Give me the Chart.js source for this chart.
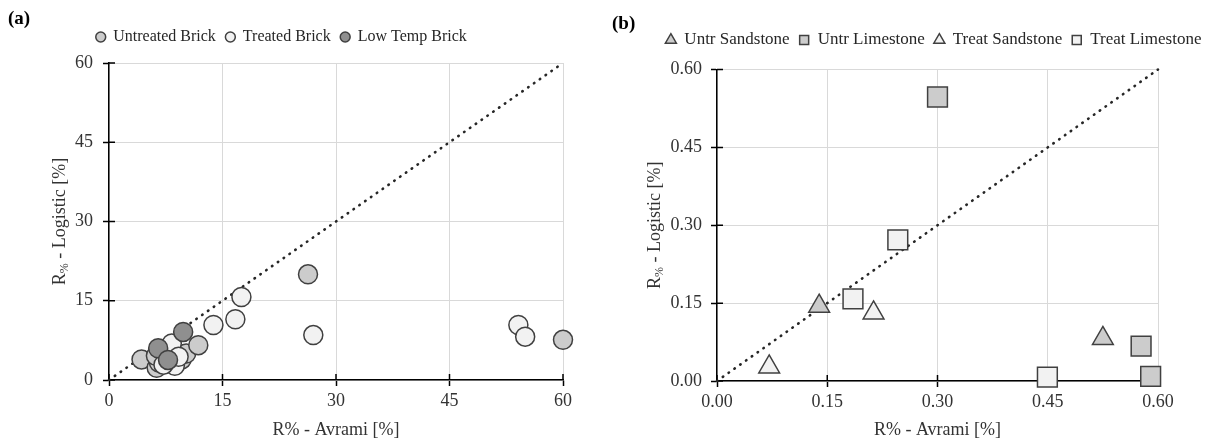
<!DOCTYPE html>
<html>
<head>
<meta charset="utf-8">
<script src="https://cdn.jsdelivr.net/npm/chart.js@4.4.1/dist/chart.umd.min.js"></script>
<style>
  html, body { margin: 0; padding: 0; background: #fff; }
  body { width: 1213px; height: 443px; position: relative; overflow: hidden; font-family: "Liberation Serif", serif; }
  .panel { position: absolute; top: 0; height: 443px; }
  #wrapA { left: 0; width: 600px; }
  #wrapB { left: 600px; width: 613px; }
  .tag { position: absolute; font-weight: bold; font-size: 19px; color: #000; line-height: 1; }
</style>
</head>
<body>
<div class="panel" id="wrapA"><canvas id="chartA" width="600" height="443"></canvas></div>
<div class="panel" id="wrapB"><canvas id="chartB" width="613" height="443"></canvas></div>
<div class="tag" style="left:8px;top:8px;">(a)</div>
<div class="tag" style="left:612px;top:13px;">(b)</div>
<script>
// ---------- data: panel (a) bricks ----------
const untreatedBrickX = [4.3, 6.3, 6.6, 6.2, 9.6, 10.2, 11.8, 26.3, 60.0];
const untreatedBrickY = [3.9, 2.3, 3.3, 4.6, 3.9, 5.0, 6.6, 20.0, 7.6];
const treatedBrickX   = [8.3, 8.7, 7.2, 9.2, 13.8, 16.7, 17.5, 27.0, 54.1, 55.0];
const treatedBrickY   = [6.9, 2.7, 2.9, 4.4, 10.4, 11.5, 15.7, 8.5, 10.4, 8.2];
const lowTempBrickX   = [6.5, 7.8, 9.8];
const lowTempBrickY   = [6.0, 3.8, 9.1];
const ticksA = [0, 15, 30, 45, 60];

// ---------- data: panel (b) stones ----------
const untrSandX  = [0.139, 0.525];
const untrSandY  = [0.144, 0.082];
const untrLimeX  = [0.300, 0.577, 0.590];
const untrLimeY  = [0.547, 0.067, 0.009];
const treatSandX = [0.071, 0.213];
const treatSandY = [0.027, 0.131];
const treatLimeX = [0.246, 0.185, 0.4495];
const treatLimeY = [0.272, 0.158, 0.0075];
const ticksB = [0, 0.15, 0.30, 0.45, 0.60];

const FONT = '"Liberation Serif", "Times New Roman", serif';
Chart.defaults.font.family = FONT;
Chart.defaults.color = '#333';

const pts = (xs, ys) => xs.map((x, i) => ({ x: x, y: ys[i] }));

// kleine tick-strepen aan binnenkant van de as
const crossTicks = {
  id: 'crossTicks',
  beforeDatasetsDraw(chart) {
    const { ctx, chartArea } = chart;
    const xs = chart.scales.x, ys = chart.scales.y;
    ctx.save();
    ctx.strokeStyle = '#000';
    ctx.lineWidth = 1.5;
    ctx.beginPath();
    xs.ticks.forEach(t => {
      const px = xs.getPixelForValue(t.value);
      ctx.moveTo(px, chartArea.bottom);
      ctx.lineTo(px, chartArea.bottom - 6);
    });
    ys.ticks.forEach(t => {
      const py = ys.getPixelForValue(t.value);
      ctx.moveTo(chartArea.left, py);
      ctx.lineTo(chartArea.left + 6, py);
    });
    ctx.stroke();
    ctx.restore();
  }
};

// y-titel met subscript "%"
const subTitleY = {
  id: 'subTitleY',
  afterDraw(chart, args, opts) {
    const { ctx, chartArea } = chart;
    const cy = (chartArea.top + chartArea.bottom) / 2;
    const big = '18px ' + FONT, small = '12px ' + FONT;
    ctx.save();
    ctx.translate(opts.x, cy);
    ctx.rotate(-Math.PI / 2);
    ctx.fillStyle = '#333';
    ctx.textBaseline = 'middle';
    ctx.textAlign = 'left';
    ctx.font = big;
    const w1 = ctx.measureText(opts.main).width;
    const w3 = ctx.measureText(opts.rest).width;
    ctx.font = small;
    const w2 = ctx.measureText(opts.sub).width;
    const x0 = -(w1 + w2 + w3) / 2;
    ctx.font = big;  ctx.fillText(opts.main, x0, 0);
    ctx.font = small; ctx.fillText(opts.sub, x0 + w1, 5);
    ctx.font = big;  ctx.fillText(opts.rest, x0 + w1 + w2, 0);
    ctx.restore();
  }
};

function axis(ticks, fmt, max, opts) {
  return {
    type: 'linear',
    min: 0,
    max: max,
    afterBuildTicks: s => { s.ticks = ticks.map(v => ({ value: v })); },
    afterFit: opts.fit,
    grid: { color: '#d9d9d9', lineWidth: 1, tickColor: '#000', tickLength: 6, tickWidth: 1.5 },
    border: { color: '#000', width: 1.5 },
    ticks: { callback: v => fmt(v), font: { size: 18, lineHeight: 1 }, color: '#333', padding: opts.pad },
    title: opts.title
      ? { display: true, text: opts.title, font: { size: 18, lineHeight: 1 }, color: '#333', padding: { top: 0, bottom: opts.titlePad } }
      : { display: false }
  };
}

// lege as als afstandhouder (boven of rechts)
function spacer(pos, size) {
  return {
    position: pos, display: true, min: 0, max: 1,
    grid: { display: false, drawTicks: false }, border: { display: false },
    ticks: { display: false },
    afterFit: s => { if (pos === 'top') s.height = size; else s.width = size; }
  };
}

function dotted(xs, ys) {
  return {
    type: 'line', label: '', data: pts(xs, ys),
    borderColor: '#262626', borderWidth: 2.6, borderDash: [0.5, 6.6], borderCapStyle: 'round',
    pointRadius: 0, fill: false, order: 10, clip: false
  };
}

function marker(label, xs, ys, style, fill, r, order) {
  return {
    type: 'scatter', label: label, data: pts(xs, ys),
    pointStyle: style, backgroundColor: fill, borderColor: '#404040', borderWidth: 1.5,
    pointRadius: r, pointHoverRadius: r, order: order, clip: false
  };
}

// ===== panel (a) =====
new Chart(document.getElementById('chartA'), {
  type: 'scatter',
  data: {
    datasets: [
      marker('Untreated Brick', untreatedBrickX, untreatedBrickY, 'circle', '#cccccc', 9.5, 3),
      marker('Treated Brick', treatedBrickX, treatedBrickY, 'circle', '#f2f2f2', 9.5, 2),
      marker('Low Temp Brick', lowTempBrickX, lowTempBrickY, 'circle', '#8f8f8f', 9.5, 1),
      dotted([0, 60], [0, 60])
    ]
  },
  options: {
    responsive: false,
    animation: false,
    layout: { padding: { top: 19, right: 37, left: 0, bottom: 0 } },
    scales: {
      x: axis(ticksA, v => String(v), 60, { fit: s => { s.height = 63; }, pad: 6, title: 'R% - Avrami [%]', titlePad: 4 }),
      y: axis(ticksA, v => String(v), 60, { fit: s => { s.width = 109; }, pad: 10 }),
      xTop: spacer('top', 8)
    },
    plugins: {
      tooltip: { enabled: false },
      legend: {
        position: 'top', align: 'center',
        labels: {
          usePointStyle: true, boxWidth: 9, boxHeight: 7, padding: 10,
          font: { size: 16 }, color: '#262626',
          filter: item => item.datasetIndex < 3,
          sort: (a, b) => a.datasetIndex - b.datasetIndex
        }
      },
      subTitleY: { x: 60, main: 'R', sub: '%', rest: ' - Logistic [%]' }
    }
  },
  plugins: [crossTicks, subTitleY]
});

// ===== panel (b) =====
new Chart(document.getElementById('chartB'), {
  type: 'scatter',
  data: {
    datasets: [
      marker('Untr Sandstone', untrSandX, untrSandY, 'triangle', '#cccccc', 12, 4),
      marker('Untr Limestone', untrLimeX, untrLimeY, 'rect', '#cccccc', 14, 3),
      marker('Treat Sandstone', treatSandX, treatSandY, 'triangle', '#f2f2f2', 12, 2),
      marker('Treat Limestone', treatLimeX, treatLimeY, 'rect', '#f2f2f2', 14, 1),
      dotted([0, 0.6], [0, 0.6])
    ]
  },
  options: {
    responsive: false,
    animation: false,
    layout: { padding: { top: 22, right: 2, left: 0, bottom: 0 } },
    scales: {
      x: axis(ticksB, v => v.toFixed(2), 0.6, { fit: s => { s.height = 62; }, pad: 6, title: 'R% - Avrami [%]', titlePad: 4 }),
      y: axis(ticksB, v => v.toFixed(2), 0.6, { fit: s => { s.width = 117; }, pad: 9 }),
      xTop: spacer('top', 11),
      yPad: spacer('right', 53)
    },
    plugins: {
      tooltip: { enabled: false },
      legend: {
        position: 'top', align: 'end',
        labels: {
          usePointStyle: true, boxWidth: 10, boxHeight: 9, padding: 9.5,
          font: { size: 17 }, color: '#262626',
          filter: item => item.datasetIndex < 4,
          sort: (a, b) => a.datasetIndex - b.datasetIndex
        }
      },
      subTitleY: { x: 55, main: 'R', sub: '%', rest: ' - Logistic [%]' }
    }
  },
  plugins: [crossTicks, subTitleY]
});
</script>
</body>
</html>
